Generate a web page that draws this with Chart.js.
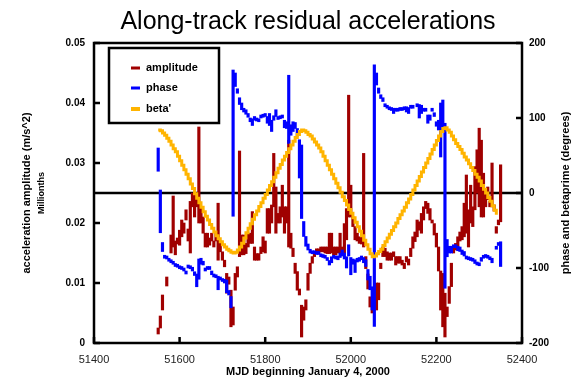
<!DOCTYPE html>
<html>
<head>
<meta charset="utf-8">
<title>Along-track residual accelerations</title>
<script src="https://cdn.jsdelivr.net/npm/chart.js@4.4.1/dist/chart.umd.min.js"></script>
<style>
  html, body { margin: 0; padding: 0; background: #fff; }
  canvas { display: block; }
</style>
</head>
<body>
<canvas id="accel" width="572" height="380"></canvas>
<script>
// bins are 5 days wide, first bin at MJD 51550
const firstDay = 51550;
const binDays = 5;

// acceleration amplitude per bin, low and high ends (m/s^2)
const ampLow = [0.0015, 0.0025, 0.0055, null, 0.0095, null, 0.015, 0.016, 0.0147, 0.0165,
  0.0163, 0.0177, 0.0183, 0.0205, 0.017, 0.015, 0.0227, 0.021, 0.0227, 0.020,
  0.020, 0.0183, 0.016, 0.016, 0.0163, 0.017, 0.016, 0.017, 0.0138, 0.0152,
  0.0138, 0.0127, 0.0083, 0.0098, 0.0027, 0.003, 0.0088, 0.011, 0.0144, 0.0147,
  0.0147, 0.0149, 0.016, 0.0166, 0.0166, 0.0138, 0.0138, 0.0138, 0.0149, 0.0152,
  0.015, 0.0183, 0.0183, 0.020, 0.0227, 0.0183, 0.020, 0.020, 0.021, 0.0183,
  0.020, 0.016, 0.0158, 0.0144, 0.0116, 0.0088, 0.008, 0.001, 0.0038, 0.0055,
  0.0088, 0.0116, 0.0133, 0.0144, 0.015, 0.015, 0.0152, 0.0152, 0.015, 0.0149,
  0.0149, 0.015, 0.0147, 0.0147, 0.015, 0.015, 0.0147, 0.015, 0.0172, 0.021,
  0.021, 0.0194, 0.0172, 0.017, 0.0166, 0.0165, 0.016, 0.0124, 0.009, 0.006,
  0.005, 0.0055, 0.0055, 0.0072, 0.0124, 0.0144, 0.0144, 0.0138, 0.0138, 0.0138,
  0.0144, 0.013, 0.0133, 0.0133, 0.013, 0.0124, 0.0135, 0.013, 0.0144, 0.0158,
  0.0169, 0.0177, 0.0188, 0.0183, 0.0205, 0.0224, 0.0216, 0.0205, 0.020, 0.018,
  0.016, 0.012, 0.0055, 0.0027, 0.001, 0.0044, 0.0066, 0.0094, 0.015, 0.0155,
  0.016, 0.017, 0.0172, 0.0177, 0.0183, 0.016, 0.020, 0.0194, 0.0222, 0.025,
  0.0227, 0.021, 0.021, 0.0227, 0.0239, 0.0227, 0.0227, 0.022, 0.0183, 0.0197,
  0.0202];
const ampHigh = [0.0025, 0.0045, 0.008, null, 0.011, null, 0.018, 0.0245, 0.017, 0.0175,
  0.0188, 0.0205, 0.020, 0.0222, 0.019, 0.0236, 0.025, 0.025, 0.0245, 0.036,
  0.0227, 0.021, 0.0183, 0.0183, 0.0175, 0.0183, 0.017, 0.0183, 0.0233, 0.017,
  0.0152, 0.0138, 0.0116, 0.011, 0.0088, 0.006, 0.0116, 0.0127, 0.032, 0.018,
  0.018, 0.0166, 0.0183, 0.0183, 0.0219, 0.016, 0.0149, 0.0149, 0.016, 0.0177,
  0.017, 0.0224, 0.0224, 0.023, 0.0316, 0.026, 0.0216, 0.0227, 0.0263, 0.0227,
  0.0227, 0.0338, 0.0183, 0.0158, 0.0133, 0.0119, 0.009, 0.0063, 0.006, 0.0072,
  0.0116, 0.0133, 0.0144, 0.0152, 0.0157, 0.0157, 0.016, 0.016, 0.016, 0.016,
  0.0183, 0.0183, 0.016, 0.016, 0.016, 0.0183, 0.016, 0.0199, 0.0224, 0.0413,
  0.0263, 0.021, 0.0194, 0.0183, 0.0177, 0.0177, 0.0316, 0.0144, 0.0115, 0.0077,
  0.0072, 0.0077, 0.010, 0.010, 0.0133, 0.016, 0.0158, 0.0152, 0.015, 0.015,
  0.0152, 0.0144, 0.0144, 0.0144, 0.0138, 0.0133, 0.0144, 0.014, 0.0158, 0.0177,
  0.0185, 0.0205, 0.0202, 0.0216, 0.0227, 0.0236, 0.0233, 0.0224, 0.0205, 0.0199,
  0.0183, 0.016, 0.012, 0.0116, 0.0083, 0.006, 0.0094, 0.0133, 0.016, 0.0166,
  0.0177, 0.0185, 0.0194, 0.0233, 0.028, 0.0222, 0.0263, 0.0227, 0.0294, 0.0322,
  0.0358, 0.0338, 0.0283, 0.025, 0.026, 0.0236, 0.030, 0.023, 0.0194, 0.0205,
  0.0297];

// phase per bin, low and high ends (degrees)
const phaseLow = [29, -53, -78, -87, -88, -91, -93, -95, -98, -99,
  -101, -102, -104, -108, -100, -101, -104, -110, -125, -115,
  -95, -96, -104, -102, -102, -109, -112, -113, -129, -116,
  -118, -120, -133, -136, -153, -31, 142, 133, 118, 111,
  108, 105, 101, 95, 90, 97, 96, 95, 100, 101,
  102, 93, 90, 82, 97, 102, 98, 99, 100, 87,
  86, 66, 77, 82, 86, 76, 20, -34, -58, -71,
  -76, -80, -81, -81, -82, -82, -85, -86, -87, -90,
  -96, -93, -87, -88, -89, -86, -84, -88, -100, -84,
  -109, -95, -106, -92, -91, -89, -93, -98, -116, -129,
  -156, -178, 144, 133, 126, 122, 115, 113, 111, 110,
  106, 109, 109, 110, 110, 111, 108, 106, 113, 113,
  null, 115, 100, 106, 109, 109, 93, 97, 109, 102,
  89, 84, 48, 88, -127, -85, -80, -80, -73, -73,
  -77, -78, -82, -84, -88, -89, -90, -91, -94, -96,
  -97, -91, -87, -86, -87, -89, -93, null, -75, -70,
  -98];
const phaseHigh = [60, 4, -66, -83, -84, -87, -89, -91, -94, -95,
  -97, -98, -100, -104, -96, -97, -99, -105, -108, -88,
  -87, -91, -100, -98, -98, -104, -108, -109, -111, -112,
  -114, -115, -116, -130, -138, 164, 160, 139, 127, 120,
  113, 111, 106, 100, 99, 102, 100, 99, 104, 105,
  106, 102, 106, 97, 103, 111, 102, 103, 104, 97,
  95, 157, 91, 95, 94, 86, 71, 64, -38, -58,
  -68, -75, -77, -77, -78, -78, -81, -82, -83, -86,
  -90, -85, -83, -84, -84, -80, -76, -80, -85, -69,
  -86, -88, -89, -87, -86, -84, -86, -89, -102, -111,
  -125, 171, 160, 140, 131, 127, 119, 117, 115, 114,
  113, 113, 113, 114, 114, 115, 115, 114, 117, 117,
  null, 119, 118, 117, 113, 113, 104, 104, 113, 107,
  95, 97, 120, 124, 93, -62, -71, -71, -69, -69,
  -71, -72, -76, -78, -84, -85, -86, -87, -89, -92,
  -93, -86, -83, -82, -83, -85, -87, null, -71, -66,
  -65];

// beta prime per bin (degrees)
const betaPrime = [84, 83, 80, 77, 73, 69, 64, 59, 55, 49,
  43, 37, 31, 25, 19, 12, 6, -1, -7, -13,
  -19, -25, -31, -36, -42, -47, -52, -57, -61, -65,
  -69, -72, -75, -77, -79, -80, -79, -76, -72, -67,
  -60, -53, -47, -41, -35, -29, -24, -18, -13, -7,
  -2, 4, 10, 15, 21, 27, 33, 38, 44, 49,
  54, 59, 64, 69, 74, 78, 82, 84, 83, 81,
  78, 76, 72, 68, 64, 60, 55, 49, 43, 37,
  31, 25, 19, 13, 7, 1, -5, -10, -16, -22,
  -27, -33, -39, -45, -51, -57, -63, -69, -75, -81,
  -85, -84, -81, -78, -75, -70, -65, -60, -55, -50,
  -45, -40, -34, -29, -24, -19, -13, -8, -2, 4,
  10, 16, 22, 28, 34, 40, 46, 52, 58, 64,
  70, 76, 82, 86, 87, 84, 81, 76, 71, 66,
  62, 58, 53, 48, 44, 39, 34, 30, 25, 21,
  16, 10, 5, 0, -6, -11, -17, -23, -29];

const mjdTicks = [51400, 51600, 51800, 52000, 52200, 52400];

const FONT = "'Liberation Sans', Arial, sans-serif";
const RED = "#a00000";
const BLUE = "#0000ff";
const ORANGE = "#ffb400";

function ranges(lows, highs) {
  let out = [];
  for (let i = 0; i < lows.length; i++) {
    if (lows[i] === null) continue;
    out.push({ x: firstDay + i * binDays, y: [lows[i], highs[i]] });
  }
  return out;
}

let betaPoints = [];
for (let i = 0; i < betaPrime.length; i++) {
  betaPoints.push({ x: firstDay + i * binDays, y: betaPrime[i] });
}

// zero line, frame with inward ticks, boxed legend, y titles
const decor = {
  id: "decor",
  beforeDatasetsDraw(chart) {
    const { ctx, chartArea: a, scales } = chart;
    const y0 = scales.yDeg.getPixelForValue(0);
    ctx.save();
    ctx.strokeStyle = "#000";
    ctx.lineWidth = 2.5;
    ctx.beginPath();
    ctx.moveTo(a.left, y0);
    ctx.lineTo(a.right, y0);
    ctx.stroke();
    ctx.restore();
  },
  afterDatasetsDraw(chart) {
    const { ctx, chartArea: a, scales } = chart;
    ctx.save();
    ctx.strokeStyle = "#000";
    ctx.lineWidth = 2.5;
    ctx.strokeRect(a.left, a.top, a.right - a.left, a.bottom - a.top);
    ctx.beginPath();
    for (let t of scales.x.ticks) {
      const x = scales.x.getPixelForValue(t.value);
      ctx.moveTo(x, a.bottom);
      ctx.lineTo(x, a.bottom - 6);
    }
    for (let t of scales.yAcc.ticks) {
      const y = scales.yAcc.getPixelForValue(t.value);
      ctx.moveTo(a.left, y);
      ctx.lineTo(a.left + 6, y);
    }
    for (let t of scales.yDeg.ticks) {
      const y = scales.yDeg.getPixelForValue(t.value);
      ctx.moveTo(a.right, y);
      ctx.lineTo(a.right - 6, y);
    }
    ctx.stroke();

    // legend box
    const box = { x: 109, y: 48, w: 110, h: 75 };
    ctx.fillStyle = "#fff";
    ctx.fillRect(box.x, box.y, box.w, box.h);
    ctx.strokeRect(box.x, box.y, box.w, box.h);
    const order = ["amplitude", "phase", "beta'"];
    const rows = [68, 88, 109];
    ctx.font = "bold 11px " + FONT;
    ctx.textBaseline = "middle";
    ctx.textAlign = "left";
    order.forEach((label, k) => {
      const ds = chart.data.datasets.find((d) => d.label === label);
      ctx.strokeStyle = ds.legendColor;
      ctx.lineWidth = ds.legendWidth;
      ctx.beginPath();
      ctx.moveTo(131, rows[k]);
      ctx.lineTo(140, rows[k]);
      ctx.stroke();
      ctx.fillStyle = "#000";
      ctx.fillText(label, 146, rows[k]);
    });
    ctx.restore();
  },
  afterDraw(chart) {
    const { ctx, chartArea: a } = chart;
    const midY = (a.top + a.bottom) / 2;
    ctx.save();
    ctx.fillStyle = "#000";
    ctx.textAlign = "center";
    ctx.textBaseline = "middle";
    const vertical = (text, x, font) => {
      ctx.save();
      ctx.translate(x, midY);
      ctx.rotate(-Math.PI / 2);
      ctx.font = font;
      ctx.fillText(text, 0, 0);
      ctx.restore();
    };
    vertical("acceleration amplitude (m/s^2)", 27, "bold 11px " + FONT);
    vertical("Millionths", 42, "bold 9px " + FONT);
    vertical("phase and betaprime (degrees)", 566, "bold 11px " + FONT);
    ctx.restore();
  },
};

Chart.defaults.font.family = FONT;
Chart.defaults.color = "#000";

const config = {
  data: {
    datasets: [
      {
        type: "line",
        label: "beta'",
        data: betaPoints,
        yAxisID: "yDeg",
        borderColor: ORANGE,
        borderWidth: 3,
        stepped: true,
        pointRadius: 0,
        fill: false,
        legendColor: ORANGE,
        legendWidth: 4,
      },
      {
        type: "bar",
        label: "phase",
        data: ranges(phaseLow, phaseHigh),
        yAxisID: "yDeg",
        backgroundColor: BLUE,
        barThickness: 2.5,
        grouped: false,
        legendColor: BLUE,
        legendWidth: 3,
      },
      {
        type: "bar",
        label: "amplitude",
        data: ranges(ampLow, ampHigh),
        yAxisID: "yAcc",
        backgroundColor: RED,
        barThickness: 2.5,
        grouped: false,
        legendColor: RED,
        legendWidth: 3,
      },
    ],
  },
  options: {
    responsive: false,
    animation: false,
    devicePixelRatio: 1,
    layout: { padding: 0 },
    plugins: {
      legend: { display: false },
      tooltip: { enabled: false },
      title: {
        display: true,
        fullSize: false,
        text: "Along-track residual accelerations",
        font: { size: 25, weight: "normal" },
        color: "#000",
        padding: { top: 7, bottom: 6 },
      },
    },
    scales: {
      x: {
        type: "linear",
        position: "bottom",
        min: 51400,
        max: 52400,
        offset: false,
        afterFit: (scale) => { scale.height = 37; },
        afterBuildTicks: (scale) => { scale.ticks = mjdTicks.map((v) => ({ value: v })); },
        grid: { display: false, drawTicks: false },
        border: { display: false },
        ticks: {
          padding: 10,
          maxRotation: 0,
          color: "#222",
          font: { size: 11 },
          callback: (v) => String(v),
        },
        title: {
          display: true,
          text: "MJD beginning January 4, 2000",
          font: { size: 11, weight: "bold" },
          padding: { top: 0, bottom: 1 },
        },
      },
      yAcc: {
        type: "linear",
        position: "left",
        min: 0,
        max: 0.05,
        afterFit: (scale) => { scale.width = 94; },
        grid: { display: false, drawTicks: false },
        border: { display: false },
        ticks: {
          stepSize: 0.01,
          padding: 9,
          font: { size: 10, weight: "bold" },
          callback: (v) => (v === 0 ? "0" : v.toFixed(2)),
        },
      },
      yDeg: {
        type: "linear",
        position: "right",
        min: -200,
        max: 200,
        afterFit: (scale) => { scale.width = 50; },
        grid: { display: false, drawTicks: false },
        border: { display: false },
        ticks: {
          stepSize: 100,
          padding: 7,
          font: { size: 10, weight: "bold" },
        },
      },
    },
  },
  plugins: [decor],
};

const accelChart = new Chart(document.getElementById("accel"), config);
</script>
</body>
</html>
